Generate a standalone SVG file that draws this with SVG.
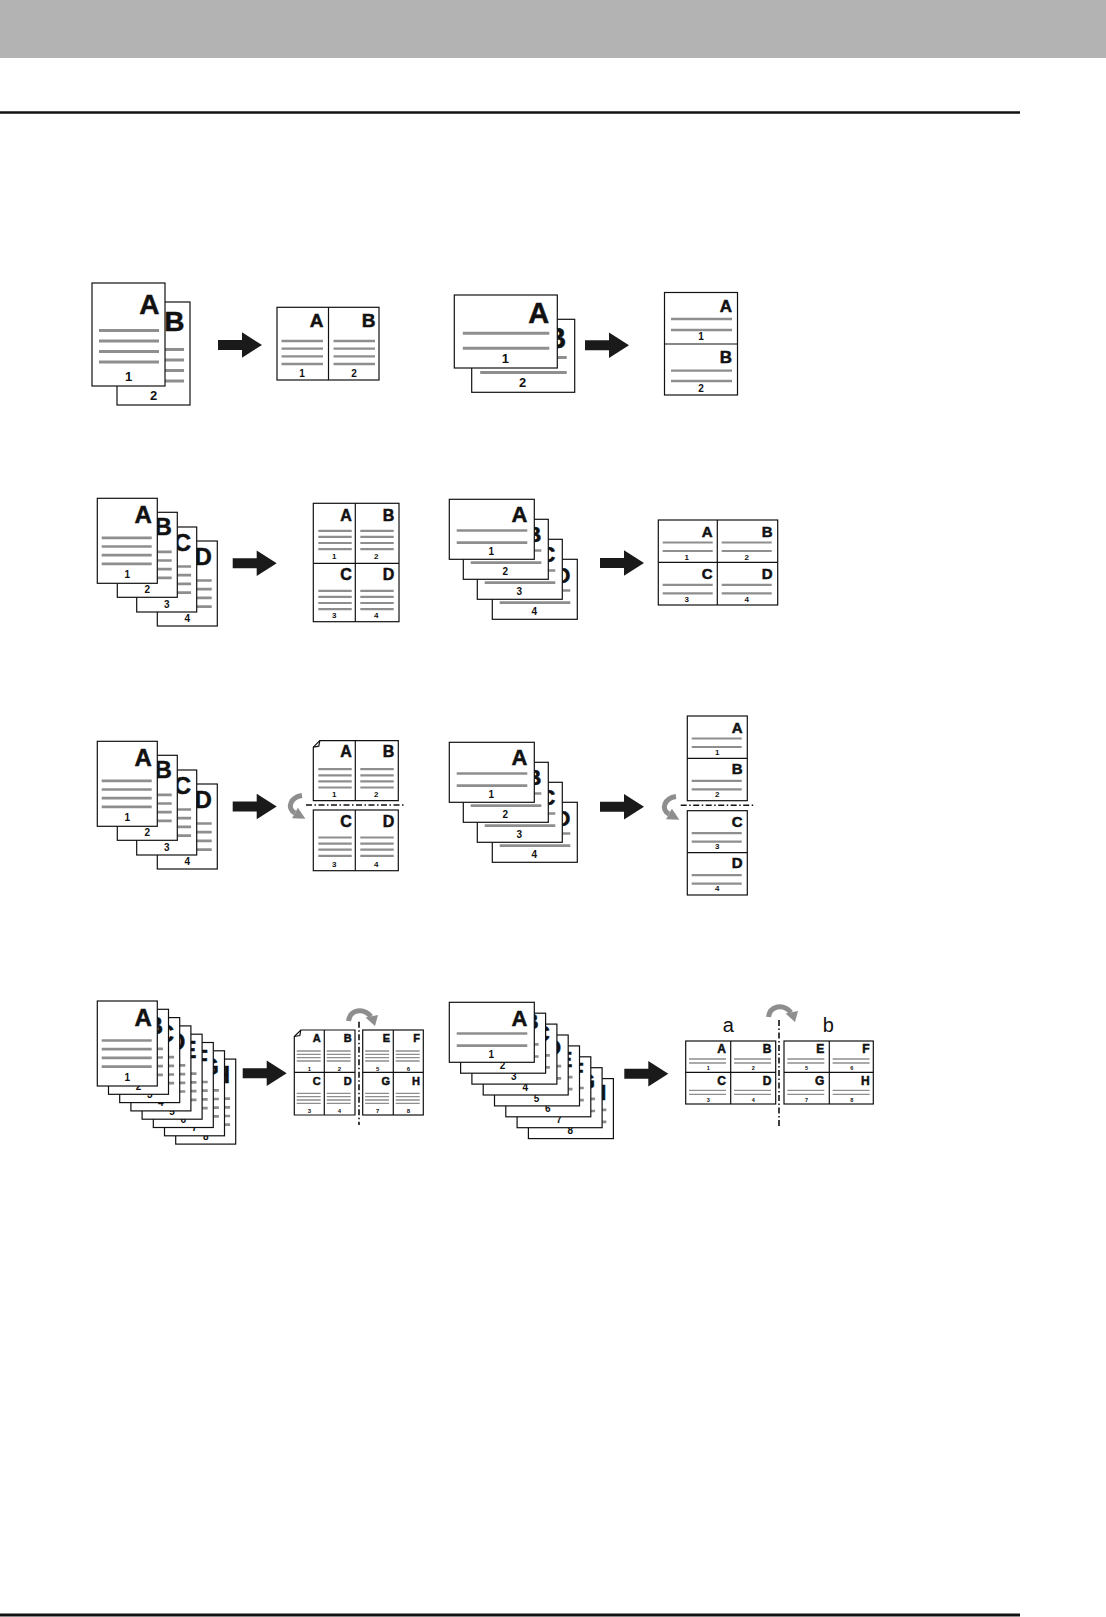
<svg xmlns="http://www.w3.org/2000/svg" xmlns:xlink="http://www.w3.org/1999/xlink" width="1106" height="1617" viewBox="0 0 1106 1617">
<style>
.pg{fill:#fff;stroke:#111;stroke-width:1.2}
.fr{fill:none;stroke:#111;stroke-width:1.2}
.gl{fill:none;stroke:#8e8e8e}
.bl{font-family:"Liberation Sans",Arial,sans-serif;font-weight:bold;text-anchor:end;fill:#111;stroke:#111;stroke-width:0.5}
.nm{font-family:"Liberation Sans",Arial,sans-serif;font-weight:bold;text-anchor:middle;fill:#111}
.lb{font-family:"Liberation Sans",Arial,sans-serif;text-anchor:middle;fill:#111}
.dd{fill:none;stroke:#111;stroke-width:1.6;stroke-dasharray:6 2.5 1.5 2.5}
.cv{fill:none;stroke:#8e8e8e;stroke-width:5}
.cvh{fill:#8e8e8e}
.ar{fill:#1a1a1a}
</style>
<defs>
<g id="pgPL"><rect class="pg" x="0" y="0" width="73" height="103"/><path class="gl" stroke-width="3" d="M7 47.5H67M7 58H67M7 68.5H67M7 79H67"/></g>
<g id="pgLL"><rect class="pg" x="0" y="0" width="103" height="73"/><path class="gl" stroke-width="3" d="M8.5 38.3H95M8.5 53.3H95"/></g>
<g id="pgP"><rect class="pg" x="0" y="0" width="60" height="85"/><path class="gl" stroke-width="2.7" d="M4.4 39.5H54.4M4.4 48.2H54.4M4.4 56.9H54.4M4.4 65.6H54.4"/></g>
<g id="pgL"><rect class="pg" x="0" y="0" width="85" height="60"/><path class="gl" stroke-width="2.7" d="M7.4 31.2H78M7.4 43.3H78"/></g>
<path id="lnC4P" class="gl" stroke-width="2.2" d="M5 27.5H38.4M5 33.6H38.4M5 39.7H38.4M5 45.8H38.4"/>
<path id="lnC4L" class="gl" stroke-width="2.2" d="M4.4 22.5H54.4M4.4 31H54.4"/>
<path id="lnC8P" class="gl" stroke-width="1.3" d="M2.4 21H26.4M2.4 24.3H26.4M2.4 27.7H26.4M2.4 31H26.4"/>
<path id="lnC8L" class="gl" stroke-width="1.3" d="M3.3 18H40.3M3.3 22H40.3"/>
<path id="arr" class="ar" d="M-44,-5H-20V-12.8L0,0L-20,12.8V5H-44Z"/>
<g id="cvA"><path class="cv" d="M302,795.5C291,797 286,808 295,813"/><polygon class="cvh" points="297.9,807.8 305.4,818.8 292.1,818.2"/></g>
<g id="cvB"><path class="cv" d="M348.5,1021C350,1010 363,1007 371,1016.5"/><polygon class="cvh" points="365.5,1017.5 378,1015 375,1026"/></g>
</defs>

<rect x="0" y="0" width="1106" height="58" fill="#b3b3b3"/>
<line x1="0" y1="112.5" x2="1020" y2="112.5" stroke="#111" stroke-width="2.5"/>
<line x1="0" y1="1615" x2="1020" y2="1615" stroke="#111" stroke-width="3"/>

<g id="r1-left-src">
<g transform="translate(117,302)"><use xlink:href="#pgPL"/><text class="bl" x="67.5" y="28.5" font-size="28">B</text><text class="nm" x="36.5" y="97.5" font-size="13">2</text></g>
<g transform="translate(92,283)"><use xlink:href="#pgPL"/><text class="bl" x="67.5" y="30.5" font-size="28">A</text><text class="nm" x="36.5" y="98" font-size="13">1</text></g>
</g>
<g id="r1-left-out">
<rect class="pg" x="277" y="307.3" width="102" height="72.7"/>
<line class="fr" x1="328.5" y1="307.3" x2="328.5" y2="380"/>
<path class="gl" stroke-width="2.3" d="M281.5 341H323M281.5 348.7H323M281.5 356.3H323M281.5 364H323M333.5 341H375M333.5 348.7H375M333.5 356.3H375M333.5 364H375"/>
<text class="bl" x="323.5" y="327" font-size="19">A</text><text class="bl" x="375.5" y="327" font-size="19">B</text>
<text class="nm" x="302" y="376.5" font-size="10">1</text><text class="nm" x="354" y="376.5" font-size="10">2</text>
</g>

<g id="r1-right-src">
<g transform="translate(471.7,319.3)"><use xlink:href="#pgLL"/><text class="bl" x="94.5" y="28.3" font-size="29">B</text><text class="nm" x="51" y="68" font-size="13">2</text></g>
<g transform="translate(454.3,295)"><use xlink:href="#pgLL"/><text class="bl" x="95" y="28.3" font-size="29">A</text><text class="nm" x="51" y="67.7" font-size="13">1</text></g>
</g>
<g id="r1-right-out">
<rect class="pg" x="664.5" y="292.5" width="73" height="102.5"/>
<line class="fr" x1="664.5" y1="344" x2="737.5" y2="344"/>
<path class="gl" stroke-width="2.3" d="M671 319H732M671 330H732M671 370.7H732M671 381H732"/>
<text class="bl" x="732" y="311.7" font-size="17">A</text><text class="nm" x="701" y="340" font-size="10">1</text>
<text class="bl" x="732" y="363.3" font-size="17">B</text><text class="nm" x="701" y="391.7" font-size="10">2</text>
</g>

<g id="r2-left-src">
<g transform="translate(157.3,541)"><use xlink:href="#pgP"/><text class="bl" x="54.5" y="24" font-size="24">D</text><text class="nm" x="30" y="80.5" font-size="10">4</text></g>
<g transform="translate(136.7,527)"><use xlink:href="#pgP"/><text class="bl" x="54.5" y="23.5" font-size="24">C</text><text class="nm" x="30" y="80.5" font-size="10">3</text></g>
<g transform="translate(117.3,512.3)"><use xlink:href="#pgP"/><text class="bl" x="54.5" y="23" font-size="24">B</text><text class="nm" x="30" y="80.5" font-size="10">2</text></g>
<g transform="translate(97.3,498.3)"><use xlink:href="#pgP"/><text class="bl" x="54.5" y="24.5" font-size="24">A</text><text class="nm" x="30" y="79.5" font-size="10">1</text></g>
</g>
<g id="r2-left-out">
<rect class="pg" x="313.3" y="503.3" width="85.7" height="118.4"/>
<line class="fr" x1="355.3" y1="503.3" x2="355.3" y2="621.7"/><line class="fr" x1="313.3" y1="563.3" x2="399" y2="563.3"/>
<g transform="translate(313.3,503.3)"><use xlink:href="#lnC4P"/><text class="bl" x="38.4" y="17.7" font-size="16">A</text><text class="nm" x="21" y="55.7" font-size="8">1</text></g>
<g transform="translate(355.3,503.3)"><use xlink:href="#lnC4P"/><text class="bl" x="39" y="17.7" font-size="16">B</text><text class="nm" x="21" y="55.7" font-size="8">2</text></g>
<g transform="translate(313.3,563.3)"><use xlink:href="#lnC4P"/><text class="bl" x="38.4" y="16.9" font-size="16">C</text><text class="nm" x="21" y="55" font-size="8">3</text></g>
<g transform="translate(355.3,563.3)"><use xlink:href="#lnC4P"/><text class="bl" x="39" y="16.9" font-size="16">D</text><text class="nm" x="21" y="55" font-size="8">4</text></g>
</g>

<g id="r2-right-src">
<g transform="translate(492.3,559.3)"><use xlink:href="#pgL"/><text class="bl" x="78" y="24" font-size="22">D</text><text class="nm" x="42" y="55.7" font-size="10">4</text></g>
<g transform="translate(477.3,539.3)"><use xlink:href="#pgL"/><text class="bl" x="78" y="23" font-size="22">C</text><text class="nm" x="42" y="55.7" font-size="10">3</text></g>
<g transform="translate(463.3,519.3)"><use xlink:href="#pgL"/><text class="bl" x="78" y="23" font-size="22">B</text><text class="nm" x="42" y="55.7" font-size="10">2</text></g>
<g transform="translate(449.3,499.3)"><use xlink:href="#pgL"/><text class="bl" x="78" y="22.4" font-size="22">A</text><text class="nm" x="42" y="55.7" font-size="10">1</text></g>
</g>
<g id="r2-right-out">
<rect class="pg" x="658.3" y="520" width="119.4" height="85"/>
<line class="fr" x1="717.3" y1="520" x2="717.3" y2="605"/><line class="fr" x1="658.3" y1="562.3" x2="777.7" y2="562.3"/>
<g transform="translate(658.3,520)"><use xlink:href="#lnC4L"/><text class="bl" x="54.4" y="17.3" font-size="15">A</text><text class="nm" x="28.5" y="39.7" font-size="8">1</text></g>
<g transform="translate(717.3,520)"><use xlink:href="#lnC4L"/><text class="bl" x="55.4" y="17.3" font-size="15">B</text><text class="nm" x="29.5" y="39.7" font-size="8">2</text></g>
<g transform="translate(658.3,562.3)"><use xlink:href="#lnC4L"/><text class="bl" x="54.4" y="17" font-size="15">C</text><text class="nm" x="28.5" y="39.4" font-size="8">3</text></g>
<g transform="translate(717.3,562.3)"><use xlink:href="#lnC4L"/><text class="bl" x="55.4" y="17" font-size="15">D</text><text class="nm" x="29.5" y="39.4" font-size="8">4</text></g>
</g>

<g id="r3-left-src">
<g transform="translate(157.3,784)"><use xlink:href="#pgP"/><text class="bl" x="54.5" y="24" font-size="24">D</text><text class="nm" x="30" y="80.5" font-size="10">4</text></g>
<g transform="translate(136.7,770)"><use xlink:href="#pgP"/><text class="bl" x="54.5" y="23.5" font-size="24">C</text><text class="nm" x="30" y="80.5" font-size="10">3</text></g>
<g transform="translate(117.3,755.3)"><use xlink:href="#pgP"/><text class="bl" x="54.5" y="23" font-size="24">B</text><text class="nm" x="30" y="80.5" font-size="10">2</text></g>
<g transform="translate(97.3,741.3)"><use xlink:href="#pgP"/><text class="bl" x="54.5" y="24.5" font-size="24">A</text><text class="nm" x="30" y="79.5" font-size="10">1</text></g>
</g>
<g id="r3-left-out">
<path class="pg" d="M319.8 740.7H398.3V800.7H313.3V747.2Z"/>
<path class="fr" stroke-width="0.9" d="M319.8 740.7L318.8 746.2L313.3 747.2"/>
<rect class="pg" x="313.3" y="810" width="85" height="60.7"/>
<line class="fr" x1="355.3" y1="740.7" x2="355.3" y2="800.7"/><line class="fr" x1="355.3" y1="810" x2="355.3" y2="870.7"/>
<g transform="translate(313.3,740.7)"><use xlink:href="#lnC4P" transform="translate(0,1)"/><text class="bl" x="38.4" y="16.8" font-size="16">A</text><text class="nm" x="21" y="56.6" font-size="8">1</text></g>
<g transform="translate(355.3,740.7)"><use xlink:href="#lnC4P" transform="translate(0,1)"/><text class="bl" x="39" y="16.8" font-size="16">B</text><text class="nm" x="21" y="56.6" font-size="8">2</text></g>
<g transform="translate(313.3,810)"><use xlink:href="#lnC4P"/><text class="bl" x="38.4" y="17.3" font-size="16">C</text><text class="nm" x="21" y="56.7" font-size="8">3</text></g>
<g transform="translate(355.3,810)"><use xlink:href="#lnC4P"/><text class="bl" x="39" y="17.3" font-size="16">D</text><text class="nm" x="21" y="56.7" font-size="8">4</text></g>
<line class="dd" x1="306" y1="805" x2="405" y2="805"/>
</g>

<g id="r3-right-src">
<g transform="translate(492.3,802.3)"><use xlink:href="#pgL"/><text class="bl" x="78" y="24" font-size="22">D</text><text class="nm" x="42" y="55.7" font-size="10">4</text></g>
<g transform="translate(477.3,782.3)"><use xlink:href="#pgL"/><text class="bl" x="78" y="23" font-size="22">C</text><text class="nm" x="42" y="55.7" font-size="10">3</text></g>
<g transform="translate(463.3,762.3)"><use xlink:href="#pgL"/><text class="bl" x="78" y="23" font-size="22">B</text><text class="nm" x="42" y="55.7" font-size="10">2</text></g>
<g transform="translate(449.3,742.3)"><use xlink:href="#pgL"/><text class="bl" x="78" y="22.4" font-size="22">A</text><text class="nm" x="42" y="55.7" font-size="10">1</text></g>
</g>
<g id="r3-right-out">
<rect class="pg" x="687.3" y="716" width="60" height="84.7"/>
<rect class="pg" x="687.3" y="810.7" width="60" height="84.3"/>
<line class="fr" x1="687.3" y1="758.3" x2="747.3" y2="758.3"/><line class="fr" x1="687.3" y1="852.7" x2="747.3" y2="852.7"/>
<g transform="translate(687.3,716)"><use xlink:href="#lnC4L"/><text class="bl" x="55.4" y="17.3" font-size="15">A</text><text class="nm" x="30" y="39" font-size="8">1</text></g>
<g transform="translate(687.3,758.3)"><use xlink:href="#lnC4L"/><text class="bl" x="55.4" y="15.7" font-size="15">B</text><text class="nm" x="30" y="39" font-size="8">2</text></g>
<g transform="translate(687.3,810.7)"><use xlink:href="#lnC4L"/><text class="bl" x="55.4" y="16" font-size="15">C</text><text class="nm" x="30" y="38.3" font-size="8">3</text></g>
<g transform="translate(687.3,852.7)"><use xlink:href="#lnC4L"/><text class="bl" x="55.4" y="15.6" font-size="15">D</text><text class="nm" x="30" y="38.3" font-size="8">4</text></g>
<line class="dd" x1="680.7" y1="805.3" x2="755" y2="805.3"/>
</g>

<g id="r4-left-src">
<g transform="translate(175.7,1059.1)"><use xlink:href="#pgP"/><text class="bl" x="54.5" y="24" font-size="24">H</text><text class="nm" x="30" y="80.5" font-size="10">8</text></g>
<g transform="translate(164.5,1050.8)"><use xlink:href="#pgP"/><text class="bl" x="54.5" y="24" font-size="24">G</text><text class="nm" x="30" y="80.5" font-size="10">7</text></g>
<g transform="translate(153.3,1042.5)"><use xlink:href="#pgP"/><text class="bl" x="54.5" y="24" font-size="24">F</text><text class="nm" x="30" y="80.5" font-size="10">6</text></g>
<g transform="translate(142.1,1034.2)"><use xlink:href="#pgP"/><text class="bl" x="54.5" y="24" font-size="24">E</text><text class="nm" x="30" y="80.5" font-size="10">5</text></g>
<g transform="translate(130.9,1025.9)"><use xlink:href="#pgP"/><text class="bl" x="54.5" y="24" font-size="24">D</text><text class="nm" x="30" y="80.5" font-size="10">4</text></g>
<g transform="translate(119.7,1017.6)"><use xlink:href="#pgP"/><text class="bl" x="54.5" y="24" font-size="24">C</text><text class="nm" x="30" y="80.5" font-size="10">3</text></g>
<g transform="translate(108.5,1009.3)"><use xlink:href="#pgP"/><text class="bl" x="54.5" y="24.5" font-size="24">B</text><text class="nm" x="30" y="80.5" font-size="10">2</text></g>
<g transform="translate(97.3,1001)"><use xlink:href="#pgP"/><text class="bl" x="54.5" y="24.7" font-size="24">A</text><text class="nm" x="30" y="80" font-size="10">1</text></g>
</g>
<g id="r4-left-out">
<path class="pg" d="M300.8 1030H355V1115H294.3V1036.5Z"/>
<path class="fr" stroke-width="0.9" d="M300.8 1030L299.8 1035.5L294.3 1036.5"/>
<rect class="pg" x="362.7" y="1030" width="60.6" height="85"/>
<line class="fr" x1="324.3" y1="1030" x2="324.3" y2="1115"/><line class="fr" x1="294.3" y1="1072.3" x2="355" y2="1072.3"/>
<line class="fr" x1="393.3" y1="1030" x2="393.3" y2="1115"/><line class="fr" x1="362.7" y1="1072.3" x2="423.3" y2="1072.3"/>
<g transform="translate(294.3,1030)"><use xlink:href="#lnC8P"/><text class="bl" x="26.4" y="11.8" font-size="11">A</text><text class="nm" x="15" y="41" font-size="6">1</text></g>
<g transform="translate(324.3,1030)"><use xlink:href="#lnC8P"/><text class="bl" x="27.4" y="11.8" font-size="11">B</text><text class="nm" x="15" y="41" font-size="6">2</text></g>
<g transform="translate(294.3,1072.3)"><use xlink:href="#lnC8P"/><text class="bl" x="26.4" y="12.7" font-size="11">C</text><text class="nm" x="15" y="41" font-size="6">3</text></g>
<g transform="translate(324.3,1072.3)"><use xlink:href="#lnC8P"/><text class="bl" x="27.4" y="12.7" font-size="11">D</text><text class="nm" x="15" y="41" font-size="6">4</text></g>
<g transform="translate(362.7,1030)"><use xlink:href="#lnC8P"/><text class="bl" x="27.3" y="11.8" font-size="11">E</text><text class="nm" x="15" y="41" font-size="6">5</text></g>
<g transform="translate(393.3,1030)"><use xlink:href="#lnC8P"/><text class="bl" x="26.7" y="11.8" font-size="11">F</text><text class="nm" x="15" y="41" font-size="6">6</text></g>
<g transform="translate(362.7,1072.3)"><use xlink:href="#lnC8P"/><text class="bl" x="27.3" y="12.7" font-size="11">G</text><text class="nm" x="15" y="41" font-size="6">7</text></g>
<g transform="translate(393.3,1072.3)"><use xlink:href="#lnC8P"/><text class="bl" x="26.7" y="12.7" font-size="11">H</text><text class="nm" x="15" y="41" font-size="6">8</text></g>
<line class="dd" x1="359" y1="1021.7" x2="359" y2="1125"/>
</g>

<g id="r4-right-src">
<g transform="translate(528.4,1078.6)"><use xlink:href="#pgL"/><text class="bl" x="78" y="21" font-size="22">H</text><text class="nm" x="42" y="55.7" font-size="10">8</text></g>
<g transform="translate(517.1,1067.7)"><use xlink:href="#pgL"/><text class="bl" x="78" y="21" font-size="22">G</text><text class="nm" x="42" y="55.7" font-size="10">7</text></g>
<g transform="translate(505.8,1056.8)"><use xlink:href="#pgL"/><text class="bl" x="78" y="21" font-size="22">F</text><text class="nm" x="42" y="55.7" font-size="10">6</text></g>
<g transform="translate(494.5,1045.9)"><use xlink:href="#pgL"/><text class="bl" x="78" y="21" font-size="22">E</text><text class="nm" x="42" y="55.7" font-size="10">5</text></g>
<g transform="translate(483.2,1035)"><use xlink:href="#pgL"/><text class="bl" x="78" y="20" font-size="22">D</text><text class="nm" x="42" y="55.7" font-size="10">4</text></g>
<g transform="translate(471.9,1024.1)"><use xlink:href="#pgL"/><text class="bl" x="78" y="17" font-size="22">C</text><text class="nm" x="42" y="55.7" font-size="10">3</text></g>
<g transform="translate(460.6,1013.2)"><use xlink:href="#pgL"/><text class="bl" x="78" y="16" font-size="22">B</text><text class="nm" x="42" y="55.7" font-size="10">2</text></g>
<g transform="translate(449.3,1002.3)"><use xlink:href="#pgL"/><text class="bl" x="78" y="23.4" font-size="22">A</text><text class="nm" x="42" y="55.4" font-size="10">1</text></g>
</g>
<g id="r4-right-out">
<text class="lb" x="728.3" y="1031.7" font-size="20">a</text>
<text class="lb" x="828.3" y="1031.7" font-size="20">b</text>
<rect class="pg" x="685.7" y="1041" width="90" height="63"/>
<rect class="pg" x="784" y="1041" width="89.3" height="63"/>
<line class="fr" x1="730.7" y1="1041" x2="730.7" y2="1104"/><line class="fr" x1="685.7" y1="1072.3" x2="775.7" y2="1072.3"/>
<line class="fr" x1="829.3" y1="1041" x2="829.3" y2="1104"/><line class="fr" x1="784" y1="1072.3" x2="873.3" y2="1072.3"/>
<g transform="translate(685.7,1041)"><use xlink:href="#lnC8L"/><text class="bl" x="40.3" y="12.3" font-size="12">A</text><text class="nm" x="22.5" y="29.3" font-size="5.5">1</text></g>
<g transform="translate(730.7,1041)"><use xlink:href="#lnC8L"/><text class="bl" x="40.8" y="12.3" font-size="12">B</text><text class="nm" x="22.5" y="29.3" font-size="5.5">2</text></g>
<g transform="translate(685.7,1072.3)"><use xlink:href="#lnC8L"/><text class="bl" x="40.3" y="12.7" font-size="12">C</text><text class="nm" x="22.5" y="29.4" font-size="5.5">3</text></g>
<g transform="translate(730.7,1072.3)"><use xlink:href="#lnC8L"/><text class="bl" x="40.8" y="12.7" font-size="12">D</text><text class="nm" x="22.5" y="29.4" font-size="5.5">4</text></g>
<g transform="translate(784,1041)"><use xlink:href="#lnC8L"/><text class="bl" x="40.3" y="12.3" font-size="12">E</text><text class="nm" x="22.5" y="29.3" font-size="5.5">5</text></g>
<g transform="translate(829.3,1041)"><use xlink:href="#lnC8L"/><text class="bl" x="40.3" y="12.3" font-size="12">F</text><text class="nm" x="22.5" y="29.3" font-size="5.5">6</text></g>
<g transform="translate(784,1072.3)"><use xlink:href="#lnC8L"/><text class="bl" x="40.3" y="12.7" font-size="12">G</text><text class="nm" x="22.5" y="29.4" font-size="5.5">7</text></g>
<g transform="translate(829.3,1072.3)"><use xlink:href="#lnC8L"/><text class="bl" x="40.3" y="12.7" font-size="12">H</text><text class="nm" x="22.5" y="29.4" font-size="5.5">8</text></g>
<line class="dd" x1="779" y1="1020" x2="779" y2="1126.7"/>
</g>

<g id="connectors">
<use xlink:href="#arr" transform="translate(262,345)"/>
<use xlink:href="#arr" transform="translate(629,345.3)"/>
<use xlink:href="#arr" transform="translate(276.7,563.3)"/>
<use xlink:href="#arr" transform="translate(644,563)"/>
<use xlink:href="#arr" transform="translate(276.7,806.5)"/>
<use xlink:href="#arr" transform="translate(644,806.7)"/>
<use xlink:href="#arr" transform="translate(286.7,1073.3)"/>
<use xlink:href="#arr" transform="translate(668.3,1073.7)"/>
<use xlink:href="#cvA"/>
<use xlink:href="#cvA" transform="translate(374,1)"/>
<use xlink:href="#cvB"/>
<use xlink:href="#cvB" transform="translate(420,-4)"/>
</g>
</svg>
